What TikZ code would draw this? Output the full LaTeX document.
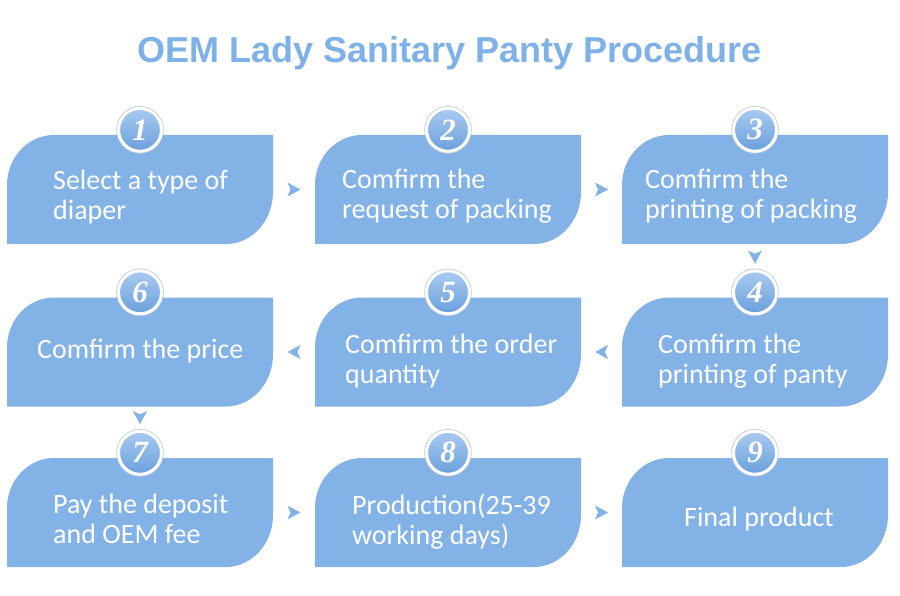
\documentclass[tikz,border=0pt]{standalone}
\usepackage{fontspec}
\setmainfont{Carlito}
\newfontfamily\titlefont{Liberation Sans}
\newfontfamily\numfont{Liberation Serif}
\usetikzlibrary{calc,shadows}
\definecolor{boxblue}{HTML}{83B3E6}
\definecolor{titleblue}{HTML}{7DB1E8}
\definecolor{badgetop}{HTML}{A9CBF1}
\definecolor{badgebot}{HTML}{6A9FDC}
\definecolor{ringline}{HTML}{B9C9DA}
\begin{document}
\begin{tikzpicture}[x=1pt,y=-1pt,
  box/.style={rectangle, inner sep=0pt, minimum width=266pt, minimum height=109pt,
    path picture={\fill[boxblue] (path picture bounding box.south west)
      -- ([yshift=-50pt]path picture bounding box.north west)
      arc[start angle=180,end angle=90,x radius=47pt,y radius=50pt]
      -- (path picture bounding box.north east)
      -- ([yshift=52pt]path picture bounding box.south east)
      arc[start angle=0,end angle=-90,x radius=47pt,y radius=52pt]
      -- cycle;}},
  txt/.style={inner sep=0pt, align=left, text=white, font=\fontsize{28}{30}\selectfont, anchor=base west},
  badge/.style={circle, inner sep=0pt, minimum size=43pt, top color=badgetop, bottom color=badgebot,
    draw=white, line width=3pt, text=white,
    font=\numfont\bfseries\itshape\fontsize{31}{31}\selectfont,
    preaction={draw=ringline, line width=4.5pt},
    drop shadow={shadow xshift=0pt, shadow yshift=-1.5pt, opacity=0.3, fill=black!50}},
  tri/.pic={\fill[boxblue] (-6.5pt,-7pt) -- (6.5pt,0pt) -- (-6.5pt,7pt) -- (-3.5pt,0pt) -- cycle;}
]
\fill[white] (0,0) rectangle (900,596);
\useasboundingbox (0,0) rectangle (900,596);

\node[font=\titlefont\bfseries\fontsize{36}{36}\selectfont, text=titleblue, anchor=base, inner sep=0pt]
  (title) at (449.5,63) {OEM Lady Sanitary Panty Procedure};

% boxes
\node[box] (b1) at (140,189.5) {};
\node[box] (b2) at (448,189.5) {};
\node[box] (b3) at (755,189.5) {};
\node[box] (b6) at (140,352) {};
\node[box] (b5) at (448,352) {};
\node[box] (b4) at (755,352) {};
\node[box] (b7) at (140,512.5) {};
\node[box] (b8) at (448,512.5) {};
\node[box] (b9) at (755,512.5) {};

% texts (base anchor = baseline of the last line)
\node[txt] (t1) at (53,220) {Select a type of\\diaper};
\node[txt] (t2) at (342,219) {Comfirm the\\request of packing};
\node[txt] (t3) at (645,219) {Comfirm the\\printing of packing};
\node[txt] (t4) at (658,383) {Comfirm the\\printing of panty};
\node[txt] (t5) at (345,383) {Comfirm the order\\quantity};
\node[txt] (t6) at (37,358) {Comfirm the price};
\node[txt] (t7) at (53,543) {Pay the deposit\\and OEM fee};
\node[txt] (t8) at (352,544) {Production(25-39\\working days)};
\node[txt] (t9) at (684,526) {Final product};

% badges
\foreach \i in {1,...,9}{
  \node[badge] (n\i) at ([yshift=5pt]b\i.north) {\i};
}

% arrows
\pic at ($(b1.east)!0.5!(b2.west)$) {tri};
\pic at ($(b2.east)!0.5!(b3.west)$) {tri};
\pic[rotate=-90] at ([yshift=-13pt]b3.south) {tri};
\pic[rotate=180] at ($(b4.west)!0.5!(b5.east)$) {tri};
\pic[rotate=180] at ($(b5.west)!0.5!(b6.east)$) {tri};
\pic[rotate=-90] at ([yshift=-11pt]b6.south) {tri};
\pic at ($(b7.east)!0.5!(b8.west)$) {tri};
\pic at ($(b8.east)!0.5!(b9.west)$) {tri};
\end{tikzpicture}
\end{document}
